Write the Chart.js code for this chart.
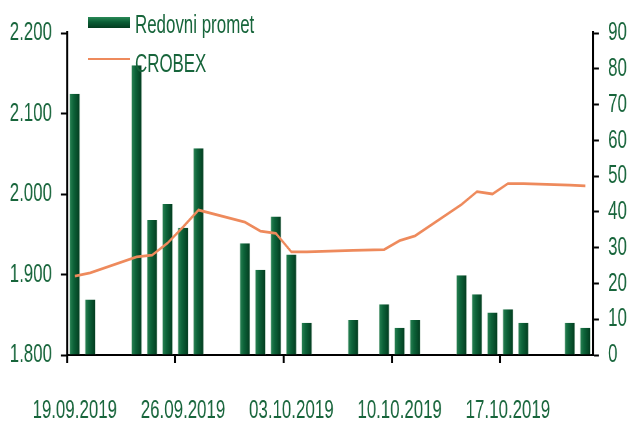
<!DOCTYPE html>
<html>
<head>
<meta charset="utf-8">
<script src="https://cdn.jsdelivr.net/npm/chart.js@4/dist/chart.umd.min.js"></script>
<style>
  body { margin: 0; background: #fff; }
  .wrap { position: relative; width: 629px; height: 422px; overflow: hidden; }
  .legend { position: absolute; left: 88px; top: 0; font-family: "Liberation Sans", Arial, sans-serif; font-size: 26px; color: #17653b; }
  .legend .row { position: absolute; left: 0; white-space: nowrap; height: 24px; line-height: 24px; width: 300px; }
  .legend .bar { position: absolute; left: 0; top: 5px; width: 42px; height: 11px; background: linear-gradient(#2a8a57, #0b5e36 45%, #033d20); }
  .legend .line { position: absolute; left: 0; top: 7px; width: 42px; height: 2px; background: #ee8a5c; }
  .legend .txt { position: absolute; left: 47px; top: 0; transform: scaleX(0.65); transform-origin: 0 0; }
</style>
</head>
<body>
<div class="wrap">
  <canvas id="chart" style="display:block;width:629px;height:422px"></canvas>
  <div class="legend">
    <div class="row" style="top:12px"><span class="bar"></span><span class="txt">Redovni promet</span></div>
    <div class="row" style="top:51px"><span class="line"></span><span class="txt">CROBEX</span></div>
  </div>
</div>
<script>
const dates = [
  '19.09.2019', '20.09.2019', '21.09.2019', '22.09.2019', '23.09.2019', '24.09.2019', '25.09.2019',
  '26.09.2019', '27.09.2019', '28.09.2019', '29.09.2019', '30.09.2019', '01.10.2019', '02.10.2019',
  '03.10.2019', '04.10.2019', '05.10.2019', '06.10.2019', '07.10.2019', '08.10.2019', '09.10.2019',
  '10.10.2019', '11.10.2019', '12.10.2019', '13.10.2019', '14.10.2019', '15.10.2019', '16.10.2019',
  '17.10.2019', '18.10.2019', '19.10.2019', '20.10.2019', '21.10.2019', '22.10.2019'
];

// Redovni promet (right axis), null = no trading
const promet = [
  73, 15.5, null, null, 81, 37.7, 42.2,
  35.6, 57.8, null, null, 31.2, 23.8, 38.7,
  28.1, 9.0, null, null, 9.8, null, 14.2,
  7.6, 9.8, null, null, 22.3, 17.0, 11.9,
  12.8, 9.0, null, null, 9.0, 7.6
];

// CROBEX (left axis)
const crobex = [
  1.898, 1.902, null, null, 1.922, 1.924, 1.939,
  1.959, 1.980, null, null, 1.965, 1.954, 1.951,
  1.928, 1.928, null, null, 1.930, null, 1.931,
  1.942, 1.948, null, null, 1.987, 2.003, 2.000,
  2.013, 2.013, null, null, 2.011, 2.010
];

const labelEvery = 7;
const textColor = '#17653b';
const fontFamily = '"Liberation Sans", Arial, sans-serif';

// the original uses a condensed face, so draw wider and squeeze the canvas horizontally
const squeeze = 0.65;
const px = (v) => v / squeeze;

const canvas = document.getElementById('chart');
canvas.width = Math.round(px(629));
canvas.height = 422;

// horizontal gradient across each bar
const barFill = (context) => {
  const chart = context.chart;
  const xScale = chart.scales.x;
  if (!xScale || context.dataIndex === undefined) return '#0b5e36';
  const cx = xScale.getPixelForValue(context.dataIndex);
  const half = (xScale.width / dates.length) * 0.7 / 2;
  if (!isFinite(cx) || !isFinite(half) || half <= 0) return '#0b5e36';
  const g = chart.ctx.createLinearGradient(cx - half, 0, cx + half, 0);
  g.addColorStop(0, '#2b8556');
  g.addColorStop(0.4, '#0d6339');
  g.addColorStop(1, '#023a1e');
  return g;
};

new Chart(canvas.getContext('2d'), {
  type: 'bar',
  data: {
    labels: dates,
    datasets: [
      {
        type: 'line',
        label: 'CROBEX',
        data: crobex,
        yAxisID: 'y',
        borderColor: '#ee8a5c',
        borderWidth: 2.8,
        pointRadius: 0,
        spanGaps: true,
        tension: 0,
        order: 0,
      },
      {
        type: 'bar',
        label: 'Redovni promet',
        data: promet,
        yAxisID: 'y1',
        backgroundColor: barFill,
        borderColor: 'rgba(170,200,180,0.7)',
        borderWidth: { top: 0, left: 1, right: 1, bottom: 0 },
        barPercentage: 0.7,
        categoryPercentage: 1,
        order: 1,
      },
    ],
  },
  options: {
    responsive: false,
    animation: false,
    devicePixelRatio: 1,
    layout: { padding: { top: 33, left: 0, right: 0, bottom: 0 } },
    plugins: {
      legend: { display: false },
      tooltip: { enabled: false },
    },
    scales: {
      x: {
        offset: true,
        grid: {
          offset: true,
          drawOnChartArea: false,
          tickLength: 8,
          tickWidth: px(2),
          tickColor: (ctx) => (ctx.index % labelEvery === 0 ? '#000' : 'rgba(0,0,0,0)'),
        },
        border: { color: '#000', width: 2 },
        ticks: {
          autoSkip: false,
          maxRotation: 0,
          padding: 32,
          color: textColor,
          font: { family: fontFamily, size: 26 },
          callback: (v, i) => (i % labelEvery === 0 ? dates[i] : ''),
        },
        afterFit: (scale) => {
          scale.height = 67;
          scale.paddingLeft = 0;
          scale.paddingRight = 0;
        },
      },
      y: {
        position: 'left',
        min: 1.8,
        max: 2.2,
        grid: { drawOnChartArea: false, tickLength: px(6), tickWidth: 2, tickColor: '#000' },
        border: { color: '#000', width: px(2) },
        ticks: {
          stepSize: 0.1,
          padding: px(9),
          color: textColor,
          font: { family: fontFamily, size: 26 },
          callback: (v) => v.toFixed(3),
        },
        afterFit: (scale) => { scale.width = px(67); },
      },
      y1: {
        position: 'right',
        min: 0,
        max: 90,
        grid: { drawOnChartArea: false, tickLength: px(6), tickWidth: 2, tickColor: '#000' },
        border: { color: '#000', width: px(2) },
        ticks: {
          stepSize: 10,
          padding: px(9),
          color: textColor,
          font: { family: fontFamily, size: 26 },
        },
        afterFit: (scale) => { scale.width = px(36); },
      },
    },
  },
});
</script>
</body>
</html>
